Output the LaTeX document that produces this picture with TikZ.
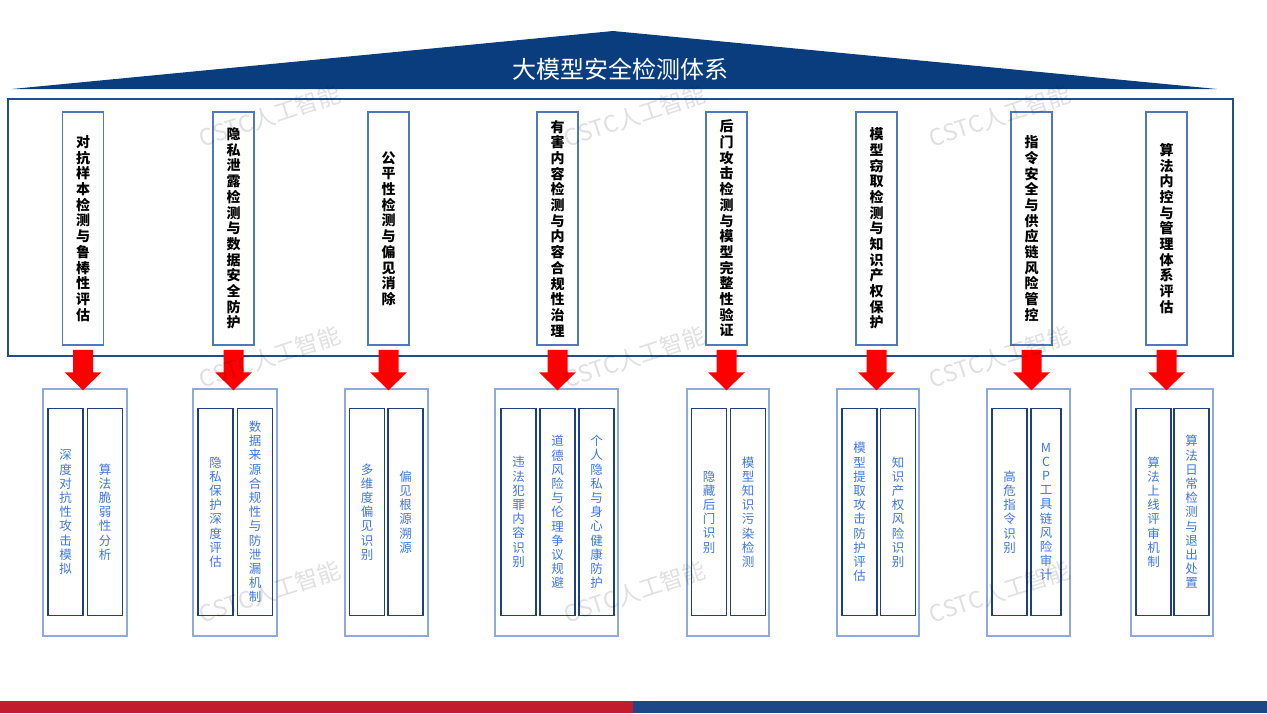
\documentclass[tikz,border=0pt]{standalone}
\usepackage{fontspec}
\setmainfont{Noto Sans CJK SC}
\definecolor{roofblue}{RGB}{10,61,126}
\definecolor{frameblue}{RGB}{31,78,138}
\definecolor{colblue}{RGB}{79,121,190}
\definecolor{grpblue}{RGB}{142,170,220}
\definecolor{innblue}{RGB}{31,64,128}
\definecolor{txtblue}{RGB}{62,118,222}
\definecolor{barred}{RGB}{192,28,45}
\definecolor{barblue}{RGB}{30,71,135}
\definecolor{arrowred}{RGB}{255,0,0}
\ExplSyntaxOn
\NewDocumentCommand\vtxt{O{1.12em}m}{
  \vbox{
    \skip_set:Nn \baselineskip {#1}
    \dim_set:Nn \lineskiplimit {-100pt}
    \tl_map_inline:nn {#2} { \hbox_to_wd:nn {1.1em} { \hss ##1 \hss } }
  }
}
\ExplSyntaxOff
\newcommand\redarrow[2]{\fill[arrowred] ([xshift=-10pt]#1) -- ([xshift=10pt]#1) -- ([xshift=10pt,yshift=18pt]#2) -- ([xshift=18.5pt,yshift=18pt]#2) -- (#2) -- ([xshift=-18.5pt,yshift=18pt]#2) -- ([xshift=-10pt,yshift=18pt]#2) -- cycle;}
\begin{document}
\begin{tikzpicture}[x=1pt,y=-1pt,
  colbox/.style={draw=colblue, line width=1.5pt, minimum width=41pt, minimum height=233pt, inner sep=0pt, font=\fontsize{14}{16}\selectfont\bfseries, text=black},
  grpbox/.style={draw=grpblue, line width=1.5pt, inner sep=0pt, minimum height=247pt},
  innbox/.style={draw=innblue, line width=1.3pt, inner sep=0pt, minimum width=35pt, minimum height=207.5pt, font=\fontsize{12.5}{14}\selectfont, text=txtblue},
  wmark/.style={text=black, text opacity=0.12, font=\fontsize{23}{25}\selectfont, rotate=18}]
\useasboundingbox (0,0) rectangle (1267,713);
% roof
\fill[roofblue] (12,89) -- (613,31) -- (1217,89) -- cycle;
\node[text=white, font=\fontsize{24}{26}\selectfont] (title) at (620,69) {大模型安全检测体系};
% frame
\node[draw=frameblue, line width=1.3pt, minimum width=1225pt, minimum height=257pt, inner sep=0pt] (frame) at (620.5,227.5) {};
% columns
\node[colbox] (c1) at (83,228.5) {\vtxt[15.7pt]{对抗样本检测与鲁棒性评估}};
\node[colbox] (c2) at (233.5,228.5) {\vtxt[15.7pt]{隐私泄露检测与数据安全防护}};
\node[colbox] (c3) at (388.5,228.5) {\vtxt[15.7pt]{公平性检测与偏见消除}};
\node[colbox] (c4) at (557.5,228.5) {\vtxt[15.7pt]{有害内容检测与内容合规性治理}};
\node[colbox] (c5) at (726.5,228.5) {\vtxt[15.7pt]{后门攻击检测与模型完整性验证}};
\node[colbox] (c6) at (876.5,228.5) {\vtxt[15.7pt]{模型窃取检测与知识产权保护}};
\node[colbox] (c7) at (1031.5,228.5) {\vtxt[15.7pt]{指令安全与供应链风险管控}};
\node[colbox] (c8) at (1166.5,228.5) {\vtxt[15.7pt]{算法内控与管理体系评估}};
% groups
\node[grpbox, minimum width=84pt] (g1) at (85,512.5) {};
\node[grpbox, minimum width=84pt] (g2) at (235,512.5) {};
\node[grpbox, minimum width=83pt] (g3) at (386.5,512.5) {};
\node[grpbox, minimum width=123pt] (g4) at (556.5,512.5) {};
\node[grpbox, minimum width=82pt] (g5) at (728,512.5) {};
\node[grpbox, minimum width=82pt] (g6) at (878,512.5) {};
\node[grpbox, minimum width=83pt] (g7) at (1028.5,512.5) {};
\node[grpbox, minimum width=82pt] (g8) at (1172,512.5) {};
% inner boxes
\node[innbox] (i11) at (65.5,512) {\vtxt[14.2pt]{深度对抗性攻击模拟}};
\node[innbox] (i12) at (105,512) {\vtxt[14.2pt]{算法脆弱性分析}};
\node[innbox] (i21) at (215.5,512) {\vtxt[14.2pt]{隐私保护深度评估}};
\node[innbox] (i22) at (255,512) {\vtxt[14.2pt]{数据来源合规性与防泄漏机制}};
\node[innbox] (i31) at (367,512) {\vtxt[14.2pt]{多维度偏见识别}};
\node[innbox] (i32) at (405.5,512) {\vtxt[14.2pt]{偏见根源溯源}};
\node[innbox] (i41) at (518.5,512) {\vtxt[14.2pt]{违法犯罪内容识别}};
\node[innbox] (i42) at (557.5,512) {\vtxt[14.2pt]{道德风险与伦理争议规避}};
\node[innbox] (i43) at (596.5,512) {\vtxt[14.2pt]{个人隐私与身心健康防护}};
\node[innbox] (i51) at (709,512) {\vtxt[14.2pt]{隐藏后门识别}};
\node[innbox] (i52) at (748,512) {\vtxt[14.2pt]{模型知识污染检测}};
\node[innbox] (i61) at (859.5,512) {\vtxt[14.2pt]{模型提取攻击防护评估}};
\node[innbox] (i62) at (898,512) {\vtxt[14.2pt]{知识产权风险识别}};
\node[innbox] (i71) at (1009.5,512) {\vtxt[14.2pt]{高危指令识别}};
\node[innbox, minimum width=30pt] (i72) at (1046,512) {\vtxt[14.2pt]{MCP工具链风险审计}};
\node[innbox] (i81) at (1153.5,512) {\vtxt[14.2pt]{算法上线评审机制}};
\node[innbox] (i82) at (1191.5,512) {\vtxt[14.2pt]{算法日常检测与退出处置}};
% arrows
\foreach \k in {1,...,8}{
  \coordinate (as\k) at ([yshift=-4pt]c\k.south);
  \coordinate (ae\k) at ([yshift=-2pt]c\k.south |- g\k.north);
  \redarrow{as\k}{ae\k}
}
% watermarks
\node[wmark] (w1) at (270,116) {CSTC人工智能};
\node[wmark] (w2) at (635,116) {CSTC人工智能};
\node[wmark] (w3) at (1000,116) {CSTC人工智能};
\node[wmark] (w4) at (270,357) {CSTC人工智能};
\node[wmark] (w5) at (635,357) {CSTC人工智能};
\node[wmark] (w6) at (1000,357) {CSTC人工智能};
\node[wmark] (w7) at (270,592) {CSTC人工智能};
\node[wmark] (w8) at (635,592) {CSTC人工智能};
\node[wmark] (w9) at (1000,592) {CSTC人工智能};
% bottom bar
\fill[barred] (0,701) rectangle (633,713);
\fill[barblue] (633,701) rectangle (1267,713);
\end{tikzpicture}
\end{document}
